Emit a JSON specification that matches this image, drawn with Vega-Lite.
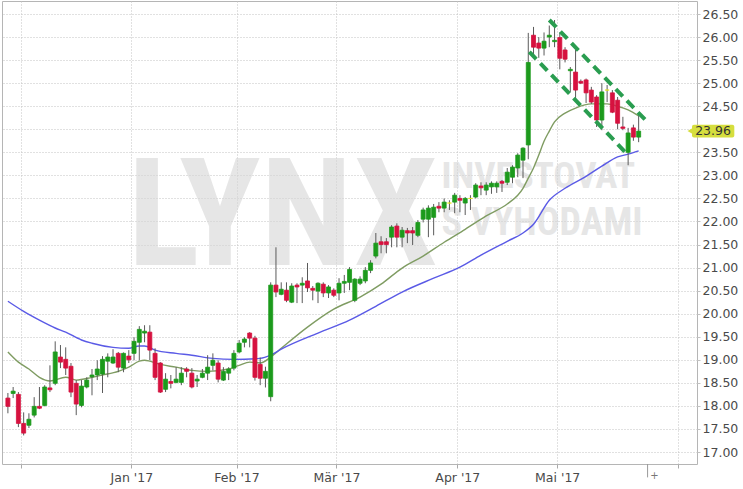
{
  "$schema": "https://vega.github.io/schema/vega-lite/v6.json",
  "width": 695,
  "height": 463,
  "autosize": {"type": "none"},
  "padding": {"left": 2, "top": 1, "right": 46, "bottom": 25},
  "background": "white",
  "config": {"view": {"stroke": "#b5b5b5"}, "axisY": {"tickCount": 20, "labelOverlap": false}},
  "datasets": {
    "candles": [
      {"t":-3,"open":18.17,"high":18.28,"low":17.84,"close":17.99},
      {"t":-2,"open":18.27,"high":18.41,"low":18.17,"close":18.32},
      {"t":-1,"open":18.25,"high":18.30,"low":17.54,"close":17.62},
      {"t":0,"open":17.62,"high":17.86,"low":17.36,"close":17.41},
      {"t":1,"open":17.58,"high":17.84,"low":17.52,"close":17.71},
      {"t":2,"open":17.80,"high":18.19,"low":17.75,"close":17.99},
      {"t":3,"open":17.99,"high":18.41,"low":17.93,"close":17.95},
      {"t":4,"open":18.01,"high":18.45,"low":17.99,"close":18.41},
      {"t":5,"open":18.39,"high":18.88,"low":18.30,"close":18.35},
      {"t":6,"open":18.49,"high":19.40,"low":18.45,"close":19.17},
      {"t":7,"open":19.06,"high":19.32,"low":18.82,"close":18.95},
      {"t":8,"open":19.01,"high":19.27,"low":18.67,"close":18.82},
      {"t":9,"open":18.86,"high":18.93,"low":18.19,"close":18.30},
      {"t":10,"open":18.49,"high":18.56,"low":17.80,"close":18.04},
      {"t":11,"open":18.01,"high":18.56,"low":17.97,"close":18.43},
      {"t":12,"open":18.41,"high":18.62,"low":18.38,"close":18.56},
      {"t":13,"open":18.63,"high":18.80,"low":18.23,"close":18.67},
      {"t":14,"open":18.67,"high":18.99,"low":18.56,"close":18.80},
      {"t":15,"open":18.69,"high":19.08,"low":18.28,"close":19.01},
      {"t":16,"open":18.97,"high":19.14,"low":18.62,"close":19.06},
      {"t":17,"open":18.93,"high":19.23,"low":18.91,"close":19.06},
      {"t":18,"open":19.14,"high":19.17,"low":18.73,"close":18.84},
      {"t":19,"open":18.82,"high":19.16,"low":18.73,"close":19.14},
      {"t":20,"open":19.08,"high":19.21,"low":18.93,"close":19.00},
      {"t":21,"open":19.14,"high":19.49,"low":18.99,"close":19.40},
      {"t":22,"open":19.38,"high":19.73,"low":18.99,"close":19.66},
      {"t":23,"open":19.58,"high":19.75,"low":19.38,"close":19.62},
      {"t":24,"open":19.60,"high":19.75,"low":18.99,"close":19.21},
      {"t":25,"open":19.14,"high":19.25,"low":18.56,"close":18.62},
      {"t":26,"open":18.93,"high":18.95,"low":18.28,"close":18.30},
      {"t":27,"open":18.36,"high":18.71,"low":18.30,"close":18.58},
      {"t":28,"open":18.53,"high":18.67,"low":18.38,"close":18.49},
      {"t":29,"open":18.51,"high":18.84,"low":18.49,"close":18.58},
      {"t":30,"open":18.51,"high":18.84,"low":18.45,"close":18.71},
      {"t":31,"open":18.80,"high":18.84,"low":18.62,"close":18.75},
      {"t":32,"open":18.71,"high":18.82,"low":18.38,"close":18.41},
      {"t":33,"open":18.54,"high":18.67,"low":18.41,"close":18.58},
      {"t":34,"open":18.62,"high":18.80,"low":18.60,"close":18.71},
      {"t":35,"open":18.71,"high":19.10,"low":18.56,"close":18.84},
      {"t":36,"open":18.88,"high":19.14,"low":18.77,"close":18.99},
      {"t":37,"open":18.93,"high":18.99,"low":18.51,"close":18.58},
      {"t":38,"open":18.56,"high":18.84,"low":18.54,"close":18.75},
      {"t":39,"open":18.71,"high":18.84,"low":18.56,"close":18.80},
      {"t":40,"open":18.82,"high":19.21,"low":18.77,"close":19.14},
      {"t":41,"open":19.17,"high":19.43,"low":19.14,"close":19.36},
      {"t":42,"open":19.38,"high":19.49,"low":19.27,"close":19.45},
      {"t":43,"open":19.58,"high":19.60,"low":19.27,"close":19.47},
      {"t":44,"open":19.47,"high":19.52,"low":18.55,"close":18.62},
      {"t":45,"open":18.90,"high":19.05,"low":18.45,"close":18.60},
      {"t":46,"open":18.60,"high":18.85,"low":18.40,"close":18.75},
      {"t":47,"open":18.20,"high":20.68,"low":18.10,"close":20.62},
      {"t":48,"open":20.62,"high":21.44,"low":20.36,"close":20.47},
      {"t":49,"open":20.42,"high":20.68,"low":20.40,"close":20.53},
      {"t":50,"open":20.51,"high":20.68,"low":20.25,"close":20.29},
      {"t":51,"open":20.25,"high":20.66,"low":20.23,"close":20.60},
      {"t":52,"open":20.62,"high":20.66,"low":20.23,"close":20.58},
      {"t":53,"open":20.62,"high":20.79,"low":20.23,"close":20.66},
      {"t":54,"open":20.71,"high":21.10,"low":20.47,"close":20.56},
      {"t":55,"open":20.55,"high":20.60,"low":20.29,"close":20.51},
      {"t":56,"open":20.49,"high":20.68,"low":20.23,"close":20.66},
      {"t":57,"open":20.64,"high":20.68,"low":20.36,"close":20.45},
      {"t":58,"open":20.45,"high":20.62,"low":20.34,"close":20.58},
      {"t":59,"open":20.51,"high":20.55,"low":20.36,"close":20.40},
      {"t":60,"open":20.45,"high":20.77,"low":20.29,"close":20.66},
      {"t":61,"open":20.66,"high":20.84,"low":20.45,"close":20.70},
      {"t":62,"open":20.68,"high":21.01,"low":20.51,"close":20.96},
      {"t":63,"open":20.29,"high":20.77,"low":20.25,"close":20.75},
      {"t":64,"open":20.66,"high":20.81,"low":20.62,"close":20.75},
      {"t":65,"open":20.71,"high":21.01,"low":20.66,"close":20.94},
      {"t":66,"open":20.94,"high":21.16,"low":20.88,"close":21.10},
      {"t":67,"open":21.25,"high":21.75,"low":21.20,"close":21.53},
      {"t":68,"open":21.56,"high":21.68,"low":21.31,"close":21.50},
      {"t":69,"open":21.56,"high":21.64,"low":21.31,"close":21.50},
      {"t":70,"open":21.66,"high":21.92,"low":21.44,"close":21.88},
      {"t":71,"open":21.90,"high":21.96,"low":21.44,"close":21.66},
      {"t":72,"open":21.66,"high":21.88,"low":21.44,"close":21.81},
      {"t":73,"open":21.80,"high":21.86,"low":21.53,"close":21.75},
      {"t":74,"open":21.80,"high":21.88,"low":21.49,"close":21.75},
      {"t":75,"open":21.70,"high":22.03,"low":21.66,"close":21.98},
      {"t":76,"open":22.05,"high":22.30,"low":21.98,"close":22.25},
      {"t":77,"open":22.05,"high":22.35,"low":21.66,"close":22.29},
      {"t":78,"open":22.09,"high":22.38,"low":21.70,"close":22.31},
      {"t":79,"open":22.33,"high":22.42,"low":22.20,"close":22.29},
      {"t":80,"open":22.29,"high":22.50,"low":22.20,"close":22.42},
      {"t":81,"open":22.40,"high":22.46,"low":22.25,"close":22.40},
      {"t":82,"open":22.42,"high":22.62,"low":22.18,"close":22.57},
      {"t":83,"open":22.50,"high":22.57,"low":22.20,"close":22.46},
      {"t":84,"open":22.40,"high":22.53,"low":22.14,"close":22.50},
      {"t":85,"open":22.50,"high":22.57,"low":22.25,"close":22.50},
      {"t":86,"open":22.53,"high":22.83,"low":22.50,"close":22.79},
      {"t":87,"open":22.77,"high":22.85,"low":22.57,"close":22.73},
      {"t":88,"open":22.68,"high":22.85,"low":22.57,"close":22.79},
      {"t":89,"open":22.75,"high":22.87,"low":22.60,"close":22.83},
      {"t":90,"open":22.75,"high":22.87,"low":22.62,"close":22.83},
      {"t":91,"open":22.87,"high":22.90,"low":22.64,"close":22.83},
      {"t":92,"open":22.85,"high":23.16,"low":22.79,"close":23.07},
      {"t":93,"open":22.96,"high":23.22,"low":22.83,"close":23.18},
      {"t":94,"open":23.16,"high":23.48,"low":22.96,"close":23.44},
      {"t":95,"open":23.33,"high":23.61,"low":22.94,"close":23.59},
      {"t":96,"open":23.66,"high":26.09,"low":23.35,"close":25.45},
      {"t":97,"open":26.04,"high":26.22,"low":25.57,"close":25.78},
      {"t":98,"open":25.87,"high":26.00,"low":25.55,"close":25.76},
      {"t":99,"open":25.76,"high":26.10,"low":25.60,"close":25.91},
      {"t":100,"open":26.00,"high":26.25,"low":25.78,"close":26.04},
      {"t":101,"open":25.90,"high":26.37,"low":25.78,"close":25.93},
      {"t":102,"open":25.99,"high":26.10,"low":25.30,"close":25.54},
      {"t":103,"open":25.72,"high":25.78,"low":25.45,"close":25.52},
      {"t":104,"open":25.27,"high":25.35,"low":24.81,"close":25.30},
      {"t":105,"open":25.24,"high":25.72,"low":24.63,"close":24.85},
      {"t":106,"open":25.04,"high":25.08,"low":24.98,"close":25.00},
      {"t":107,"open":25.07,"high":25.10,"low":24.57,"close":24.79},
      {"t":108,"open":24.85,"high":24.92,"low":24.55,"close":24.59},
      {"t":109,"open":24.70,"high":24.74,"low":24.05,"close":24.20},
      {"t":110,"open":24.20,"high":25.00,"low":23.98,"close":24.81},
      {"t":111,"open":24.85,"high":24.96,"low":24.59,"close":24.85},
      {"t":112,"open":24.79,"high":24.85,"low":24.35,"close":24.37},
      {"t":113,"open":24.63,"high":24.70,"low":24.00,"close":24.13},
      {"t":114,"open":24.05,"high":24.27,"low":23.98,"close":24.02},
      {"t":115,"open":23.50,"high":24.03,"low":23.22,"close":23.92},
      {"t":116,"open":24.03,"high":24.10,"low":23.75,"close":23.83},
      {"t":117,"open":23.83,"high":24.30,"low":23.72,"close":23.96}
    ],
    "ma20": [
      {"t":-3,"v":19.17},{"t":-1,"v":18.95},{"t":1,"v":18.80},{"t":3,"v":18.62},{"t":5,"v":18.54},
      {"t":8,"v":18.62},{"t":10,"v":18.56},{"t":13,"v":18.62},{"t":15,"v":18.67},{"t":18,"v":18.75},
      {"t":20,"v":18.84},{"t":22,"v":18.97},{"t":23,"v":18.99},{"t":24,"v":18.97},{"t":26,"v":18.90},
      {"t":29,"v":18.84},{"t":32,"v":18.77},{"t":35,"v":18.75},{"t":39,"v":18.80},{"t":41,"v":18.88},
      {"t":43,"v":18.95},{"t":45,"v":18.93},{"t":47,"v":19.06},{"t":49,"v":19.25},{"t":54,"v":19.71},
      {"t":59,"v":20.10},{"t":64,"v":20.36},{"t":68,"v":20.64},{"t":72,"v":20.99},{"t":76,"v":21.25},
      {"t":80,"v":21.55},{"t":84,"v":21.83},{"t":88,"v":22.12},{"t":92,"v":22.38},{"t":94,"v":22.57},
      {"t":95,"v":22.72},{"t":96,"v":22.94},{"t":97,"v":23.16},{"t":98,"v":23.44},{"t":99,"v":23.74},
      {"t":100,"v":23.96},{"t":101,"v":24.16},{"t":103,"v":24.35},{"t":105,"v":24.46},{"t":108,"v":24.55},
      {"t":111,"v":24.55},{"t":113,"v":24.50},{"t":115,"v":24.42},{"t":117,"v":24.29}
    ],
    "ma50": [
      {"t":-3,"v":20.27},{"t":0,"v":20.05},{"t":3,"v":19.86},{"t":6,"v":19.69},{"t":8,"v":19.60},
      {"t":11,"v":19.43},{"t":13,"v":19.36},{"t":17,"v":19.27},{"t":20,"v":19.25},{"t":22,"v":19.30},
      {"t":23,"v":19.30},{"t":25,"v":19.21},{"t":29,"v":19.14},{"t":32,"v":19.10},{"t":36,"v":19.03},
      {"t":40,"v":19.01},{"t":45,"v":19.03},{"t":47,"v":19.10},{"t":49,"v":19.23},{"t":56,"v":19.58},
      {"t":62,"v":19.86},{"t":67,"v":20.16},{"t":72,"v":20.47},{"t":78,"v":20.77},{"t":83,"v":21.01},
      {"t":87,"v":21.27},{"t":92,"v":21.57},{"t":95,"v":21.75},{"t":97,"v":21.94},{"t":100,"v":22.46},
      {"t":103,"v":22.72},{"t":107,"v":22.98},{"t":110,"v":23.20},{"t":113,"v":23.40},{"t":115,"v":23.46},
      {"t":117,"v":23.53}
    ],
    "channel": [
      {"line":"upper","t":100.0,"v":26.37},{"line":"upper","t":118.3,"v":24.20},
      {"line":"lower","t":96.2,"v":25.68},{"line":"lower","t":115.0,"v":23.44}
    ]
  },
  "layer": [
    {
      "data": {"name": "candles"},
      "mark": {"type": "rule", "color": "#5a5a5a", "strokeWidth": 1, "opacity": 0},
      "encoding": {
        "x": {
          "field": "t", "type": "quantitative",
          "scale": {"domain": [-3.17, 127.15], "nice": false, "zero": false},
          "axis": {
            "title": null,
            "values": [-0.5, 20.5, 40.5, 59.5, 82.5, 101.5, 124.5],
            "labelExpr": "datum.value == 20.5 ? \"Jan '17\" : datum.value == 40.5 ? \"Feb '17\" : datum.value == 59.5 ? \"Mär '17\" : datum.value == 82.5 ? \"Apr '17\" : datum.value == 101.5 ? \"Mai '17\" : ''",
            "grid": true, "gridDash": [1, 2], "gridColor": "#c2c2c2",
            "domain": false, "ticks": true, "tickSize": 4, "tickColor": "#aaaaaa",
            "labelFont": "DejaVu Sans", "labelFontSize": 12.5, "labelColor": "#4a4a4a",
            "labelPadding": 3, "labelFlush": false, "labelOverlap": false
          }
        },
        "y": {
          "field": "low", "type": "quantitative",
          "scale": {"domain": [16.74, 26.782], "nice": false, "zero": false},
          "axis": {
            "title": null, "orient": "right",
            "values": [17, 17.5, 18, 18.5, 19, 19.5, 20, 20.5, 21, 21.5, 22, 22.5, 23, 23.5, 24, 24.5, 25, 25.5, 26, 26.5],
            "tickCount": 20,
            "format": ".2f",
            "labelExpr": "datum.value == 24 ? '' : datum.label",
            "grid": true, "gridDash": [1, 2], "gridColor": "#c2c2c2",
            "domain": false, "ticks": true, "tickSize": 3, "tickColor": "#c2c2c2",
            "labelFont": "DejaVu Sans", "labelFontSize": 12.5, "labelColor": "#4a4a4a",
            "labelPadding": 2, "labelOverlap": false
          }
        },
        "y2": {"field": "high"}
      }
    },
    {
      "data": {"values": [{}]},
      "mark": {"type": "text", "text": "LYNX", "font": "Roboto Condensed, Liberation Sans Narrow, Lato, sans-serif", "fontWeight": "bold", "fontSize": 150, "align": "left", "baseline": "alphabetic", "fill": "#d6d6d6", "opacity": 0.6},
      "encoding": {
        "x": {"datum": 19.8, "type": "quantitative"},
        "y": {"datum": 21.05, "type": "quantitative"}
      }
    },
    {
      "data": {"values": [{}]},
      "mark": {"type": "text", "text": "INVESTOVAT", "font": "Roboto Condensed, Liberation Sans Narrow, Lato, sans-serif", "fontWeight": "bold", "fontSize": 37, "align": "left", "baseline": "alphabetic", "fill": "#d6d6d6", "opacity": 0.6},
      "encoding": {
        "x": {"datum": 79.5, "type": "quantitative"},
        "y": {"datum": 22.72, "type": "quantitative"}
      }
    },
    {
      "data": {"values": [{}]},
      "mark": {"type": "text", "text": "S VYHODAMI", "font": "Roboto Condensed, Liberation Sans Narrow, Lato, sans-serif", "fontWeight": "bold", "fontSize": 38, "align": "left", "baseline": "alphabetic", "fill": "#d6d6d6", "opacity": 0.6},
      "encoding": {
        "x": {"datum": 79.5, "type": "quantitative"},
        "y": {"datum": 21.70, "type": "quantitative"}
      }
    },
    {
      "data": {"name": "ma20"},
      "mark": {"type": "line", "color": "#7f9c62", "strokeWidth": 1.4, "interpolate": "monotone"},
      "encoding": {
        "x": {"field": "t", "type": "quantitative"},
        "y": {"field": "v", "type": "quantitative"}
      }
    },
    {
      "data": {"name": "ma50"},
      "mark": {"type": "line", "color": "#5a5ae6", "strokeWidth": 1.4, "interpolate": "monotone"},
      "encoding": {
        "x": {"field": "t", "type": "quantitative"},
        "y": {"field": "v", "type": "quantitative"}
      }
    },
    {
      "data": {"name": "candles"},
      "mark": {"type": "rule", "color": "#5a5a5a", "strokeWidth": 1},
      "encoding": {
        "x": {"field": "t", "type": "quantitative"},
        "y": {"field": "low", "type": "quantitative"},
        "y2": {"field": "high"}
      }
    },
    {
      "data": {"name": "candles"},
      "mark": {"type": "bar", "size": 4, "strokeWidth": 0.8},
      "encoding": {
        "x": {"field": "t", "type": "quantitative"},
        "y": {"field": "open", "type": "quantitative"},
        "y2": {"field": "close"},
        "color": {
          "condition": [
            {"test": "datum.close > datum.open", "value": "#1c9a1c"},
            {"test": "datum.close < datum.open", "value": "#d6123f"}
          ],
          "value": "#e4e41c"
        },
        "stroke": {
          "condition": [
            {"test": "datum.close > datum.open", "value": "#1c9a1c"},
            {"test": "datum.close < datum.open", "value": "#d6123f"}
          ],
          "value": "#e4e41c"
        }
      }
    },
    {
      "data": {"name": "channel"},
      "mark": {"type": "line", "color": "#2a9d50", "strokeWidth": 4, "strokeDash": [10, 6]},
      "encoding": {
        "x": {"field": "t", "type": "quantitative"},
        "y": {"field": "v", "type": "quantitative"},
        "detail": {"field": "line"}
      }
    },
    {
      "data": {"values": [{}]},
      "mark": {"type": "rect", "fill": "#d6de3e", "cornerRadius": 2},
      "encoding": {
        "x": {"datum": 127.15, "type": "quantitative"},
        "x2": {"datum": 135.2},
        "y": {"datum": 23.82, "type": "quantitative"},
        "y2": {"datum": 24.10}
      }
    },
    {
      "data": {"values": [{}]},
      "mark": {"type": "point", "shape": "triangle-left", "filled": true, "fill": "#d6de3e", "size": 30, "opacity": 1},
      "encoding": {
        "x": {"datum": 126.75, "type": "quantitative"},
        "y": {"datum": 23.96, "type": "quantitative"}
      }
    },
    {
      "data": {"values": [{}]},
      "mark": {"type": "text", "text": "23.96", "font": "DejaVu Sans", "fontSize": 12.5, "fill": "#333333", "align": "left", "baseline": "middle"},
      "encoding": {
        "x": {"datum": 127.75, "type": "quantitative"},
        "y": {"datum": 23.96, "type": "quantitative"}
      }
    },
    {
      "data": {"values": [{}]},
      "mark": {"type": "rule", "color": "#999999", "strokeWidth": 1},
      "encoding": {
        "x": {"datum": 118.7, "type": "quantitative"},
        "y": {"datum": 16.74, "type": "quantitative"},
        "y2": {"datum": 16.45}
      }
    },
    {
      "data": {"values": [{}]},
      "mark": {"type": "text", "text": "+", "font": "DejaVu Sans", "fontSize": 10, "fill": "#777777", "align": "left", "baseline": "middle"},
      "encoding": {
        "x": {"datum": 119.2, "type": "quantitative"},
        "y": {"datum": 16.47, "type": "quantitative"}
      }
    }
  ]
}
